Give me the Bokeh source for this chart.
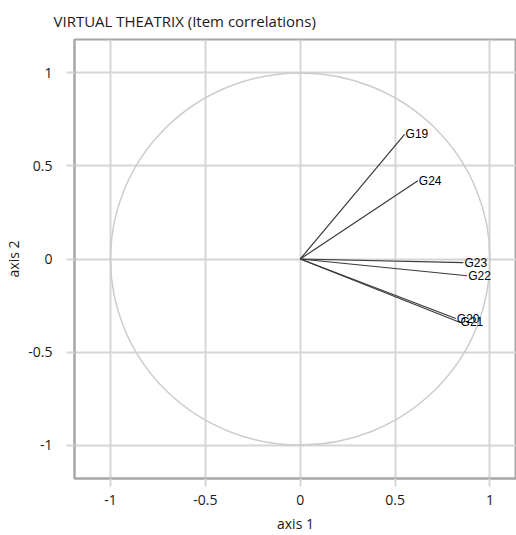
from bokeh.plotting import figure
from bokeh.models import Range1d, FixedTicker, ColumnDataSource
from bokeh.core.properties import value
from bokeh.embed import file_html
from bokeh.resources import INLINE

items = ["G19", "G24", "G23", "G22", "G20", "G21"]
axis1 = [0.55, 0.62, 0.86, 0.88, 0.82, 0.84]
axis2 = [0.67, 0.42, -0.02, -0.09, -0.32, -0.34]
ticks = [-1, -0.5, 0, 0.5, 1]
tick_labels = {-1: "-1", -0.5: "-0.5", 0: "0", 0.5: "0.5", 1: "1"}

FONT = "Open Sans"

p = figure(width=516, height=535, output_backend="svg", toolbar_location=None,
           x_range=Range1d(-1.19, 1.14), y_range=Range1d(-1.18, 1.18),
           min_border_left=74, min_border_right=0, min_border_top=39, min_border_bottom=57)
p.title.text = "VIRTUAL THEATRIX (Item correlations)"
p.title.text_font = FONT
p.title.text_font_size = "15px"
p.title.text_font_style = "normal"
p.title.text_color = "#1a1a1a"
p.title.align = "left"
p.title.offset = -21
p.title.standoff = 17

grid_col = "#d6d6d6"
for ax in (p.xaxis, p.yaxis):
    ax.ticker = FixedTicker(ticks=ticks)
    ax.major_label_overrides = {float(k): v for k, v in tick_labels.items()}
    ax.major_tick_in = 0
    ax.major_tick_out = 8
    ax.major_tick_line_color = grid_col
    ax.major_tick_line_width = 2
    ax.minor_tick_line_color = None
    ax.axis_line_color = "#a6a6a6"
    ax.axis_line_width = 2
    ax.major_label_text_font = FONT
    ax.major_label_text_font_size = "14px"
    ax.major_label_text_color = "#1a1a1a"
    ax.axis_label_text_font = FONT
    ax.axis_label_text_font_size = "14px"
    ax.axis_label_text_font_style = "normal"
    ax.axis_label_text_color = "#1a1a1a"
p.xaxis.axis_label = "axis 1"
p.yaxis.axis_label = "axis 2"
p.xaxis.major_label_standoff = 8
p.yaxis.major_label_standoff = 14
p.xaxis.axis_label_standoff = 6
p.yaxis.axis_label_standoff = 2

for g in (p.xgrid, p.ygrid):
    g.ticker = FixedTicker(ticks=ticks)
    g.grid_line_color = grid_col
    g.grid_line_width = 2
p.outline_line_color = "#a6a6a6"
p.outline_line_width = 2
p.background_fill_color = "white"
p.border_fill_color = "white"

p.ellipse(x=[0], y=[0], width=[2], height=[2], fill_color=None,
          line_color="#cccccc", line_width=1.5)

src = ColumnDataSource(dict(x0=[0] * len(items), y0=[0] * len(items),
                            x=axis1, y=axis2, name=items))
p.segment(x0="x0", y0="y0", x1="x", y1="y", source=src, line_color="#3a3a3a", line_width=1.2)
p.text(x="x", y="y", text="name", source=src, text_font=value("Liberation Sans"),
       text_font_size="12px", text_color="#000000", text_baseline="middle",
       text_align="left", x_offset=1)

open("out.html", "w").write(file_html(p, INLINE))
